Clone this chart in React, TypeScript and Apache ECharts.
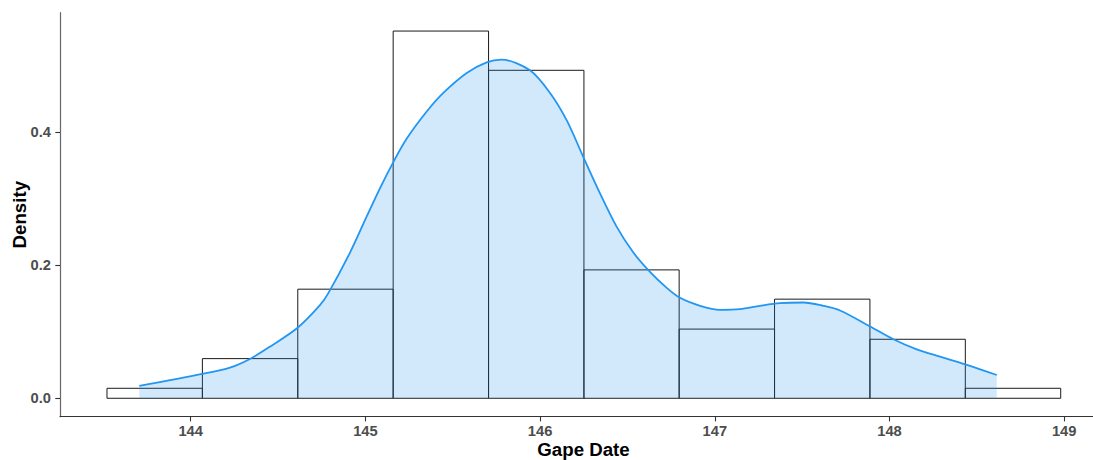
import React, { useEffect, useRef } from "react";
import * as echarts from "echarts";

// Histogram bins (Gape Date) and density heights
const binEdges = [143.521, 144.067, 144.613, 145.159, 145.705, 146.251, 146.796, 147.342, 147.888, 148.434, 148.98];
const binDensity = [0.015, 0.0596, 0.164, 0.552, 0.493, 0.193, 0.104, 0.149, 0.0887, 0.015];

// Kernel density curve
const densX = [
  143.706, 144.066, 144.225, 144.339, 144.454, 144.612, 144.74, 144.788, 144.912, 145.007,
  145.084, 145.16, 145.236, 145.351, 145.446, 145.58, 145.694, 145.78, 145.942, 146.057,
  146.152, 146.247, 146.343, 146.438, 146.534, 146.629, 146.725, 146.801, 146.916, 147.03,
  147.144, 147.259, 147.373, 147.507, 147.621, 147.717, 147.889, 148.022, 148.156, 148.289,
  148.434, 148.614,
];
const densY = [
  0.0185, 0.0365, 0.046, 0.059, 0.0776, 0.106, 0.14, 0.158, 0.219, 0.273,
  0.316, 0.355, 0.39, 0.431, 0.459, 0.489, 0.505, 0.509, 0.493, 0.459,
  0.418, 0.363, 0.308, 0.258, 0.219, 0.19, 0.166, 0.151, 0.139, 0.133,
  0.134, 0.139, 0.143, 0.144, 0.139, 0.132, 0.108, 0.0887, 0.0735, 0.0626,
  0.0511, 0.035,
];

const xTicks = [144, 145, 146, 147, 148, 149];
const yTicks = [0, 0.2, 0.4];

export default function App() {
  const ref = useRef<HTMLDivElement>(null);
  useEffect(() => {
    if (!ref.current) return;
    const chart = echarts.init(ref.current, null, { renderer: "svg" });
    const histData = binDensity.map((d, i) => [binEdges[i], binEdges[i + 1], d]);
    const lineData = densX.map((x, i) => [x, densY[i]]);
    const font = "'Liberation Sans', Arial, sans-serif";
    chart.setOption({
      animation: false,
      backgroundColor: "#ffffff",
      grid: {
        left: 60,
        right: -14,
        top: 12.7,
        bottom: 43.3,
        containLabel: false,
        outerBoundsMode: "none",
      },
      xAxis: {
        type: "value",
        min: 143.252,
        max: 149.245,
        name: "Gape Date",
        nameLocation: "middle",
        nameGap: 23,
        nameMoveOverlap: false,
        nameTextStyle: { fontFamily: font, fontWeight: "bold", fontSize: 18.7, color: "#000" },
        splitLine: { show: false },
        axisLine: { show: true, onZero: false, lineStyle: { color: "#333", width: 1.2 } },
        axisTick: { show: true, length: 4.7, customValues: xTicks, lineStyle: { color: "#333", width: 1.1 } },
        axisLabel: {
          customValues: xTicks,
          margin: 7,
          fontFamily: font,
          fontWeight: "bold",
          fontSize: 14.7,
          color: "#4d4d4d",
        },
      },
      yAxis: {
        type: "value",
        min: -0.0277,
        max: 0.5796,
        name: "Density",
        nameLocation: "middle",
        nameGap: 31,
        nameMoveOverlap: false,
        nameRotate: 90,
        nameTextStyle: { fontFamily: font, fontWeight: "bold", fontSize: 18.7, color: "#000" },
        splitLine: { show: false },
        axisLine: { show: true, onZero: false, lineStyle: { color: "#666", width: 1.2 } },
        axisTick: { show: true, length: 4.7, customValues: yTicks, lineStyle: { color: "#333", width: 1.1 } },
        axisLabel: {
          customValues: yTicks,
          margin: 9,
          fontFamily: font,
          fontWeight: "bold",
          fontSize: 14.7,
          color: "#4d4d4d",
          formatter: (v: number) => v.toFixed(1),
        },
      },
      series: [
        {
          type: "custom",
          z: 1,
          data: histData,
          encode: { x: [0, 1], y: 2 },
          renderItem: (params: any, api: any) => {
            const p0 = api.coord([api.value(0), api.value(2)]);
            const p1 = api.coord([api.value(1), 0]);
            return {
              type: "rect",
              shape: { x: p0[0], y: p0[1], width: p1[0] - p0[0], height: p1[1] - p0[1] },
              style: { fill: "none", stroke: "#1a1a1a", lineWidth: 1 },
            };
          },
        },
        {
          type: "line",
          z: 2,
          data: lineData,
          smooth: 0.3,
          showSymbol: false,
          symbol: "none",
          lineStyle: { color: "#2196F3", width: 1.8 },
          areaStyle: { color: "rgba(40,150,235,0.3)", origin: 0 },
        },
      ],
    });
    return () => chart.dispose();
  }, []);
  return (
    <div
      ref={ref}
      style={{ position: "fixed", left: 0, top: 0, width: 1093, height: 460, background: "#fff" }}
    />
  );
}
